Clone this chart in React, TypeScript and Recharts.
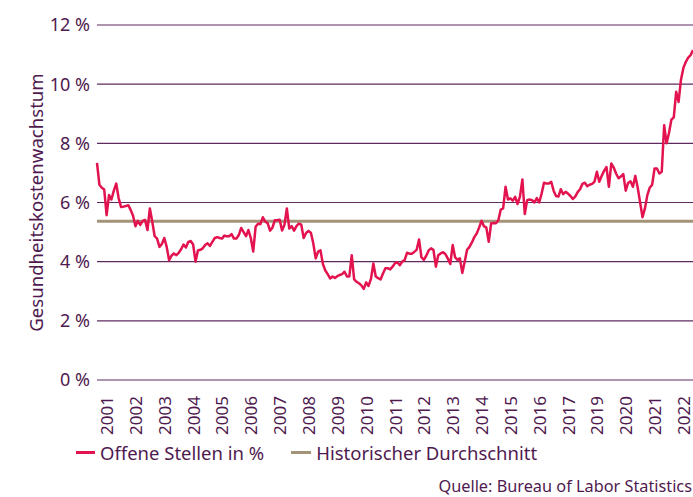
import React from "react";
import { LineChart, Line, XAxis, YAxis, CartesianGrid } from "recharts";

// monthly values (first point ~ autumn 2000)
const openings: number[] = [
  7.34, 6.6, 6.5, 6.44, 5.57, 6.25, 6.1, 6.4, 6.64, 6.15,
  5.85, 5.86, 5.88, 5.91, 5.75, 5.55, 5.2, 5.38, 5.24, 5.38,
  5.41, 5.07, 5.8, 5.35, 4.86, 4.78, 4.5, 4.6, 4.8, 4.5,
  4.05, 4.2, 4.28, 4.22, 4.3, 4.42, 4.58, 4.48, 4.67, 4.7,
  4.58, 4.0, 4.38, 4.4, 4.45, 4.56, 4.62, 4.53, 4.67, 4.8,
  4.83, 4.8, 4.78, 4.88, 4.86, 4.86, 4.93, 4.78, 4.78, 4.9,
  5.14, 5.0, 4.86, 5.07, 4.8, 4.34, 5.18, 5.28, 5.27, 5.5,
  5.36, 5.3, 5.05, 5.15, 5.4, 5.4, 5.42, 5.05, 5.25, 5.8,
  5.12, 5.2, 5.05, 5.2, 5.29, 5.25, 4.8, 4.97, 5.04, 4.98,
  4.62, 4.11, 4.34, 4.38, 3.92, 3.7, 3.58, 3.43, 3.5, 3.45,
  3.51, 3.55, 3.58, 3.66, 3.5, 3.5, 4.22, 3.4, 3.32, 3.27,
  3.2, 3.08, 3.3, 3.18, 3.42, 3.94, 3.5, 3.44, 3.4, 3.6,
  3.78, 3.78, 3.74, 3.83, 3.95, 3.98, 3.88, 4.0, 4.05, 4.3,
  4.27, 4.27, 4.33, 4.4, 4.75, 4.15, 4.06, 4.2, 4.38, 4.45,
  4.4, 3.83, 4.22, 4.28, 4.32, 4.25, 4.1, 3.92, 4.56, 4.15,
  4.06, 4.11, 3.62, 4.0, 4.4, 4.5, 4.65, 4.83, 4.95, 5.15,
  5.38, 5.2, 5.15, 4.67, 5.29, 5.31, 5.3, 5.4, 5.76, 5.8,
  6.53, 6.1, 6.14, 6.06, 6.19, 5.95, 6.2, 6.78, 5.61, 6.08,
  6.1, 6.08, 6.0, 6.15, 6.0, 6.3, 6.67, 6.64, 6.64, 6.7,
  6.4, 6.22, 6.2, 6.45, 6.28, 6.36, 6.3, 6.22, 6.12, 6.2,
  6.35, 6.45, 6.63, 6.67, 6.55, 6.6, 6.63, 6.7, 7.04, 6.7,
  6.9, 7.07, 7.2, 6.53, 7.32, 7.18, 6.98, 6.82, 6.88, 6.96,
  6.4, 6.66, 6.72, 6.53, 6.9, 6.5, 6.0, 5.5, 5.8, 6.25,
  6.5, 6.6, 7.15, 7.15, 6.98, 7.04, 8.61, 8.0, 8.35, 8.8,
  8.88, 9.74, 9.4, 10.15, 10.55, 10.75, 10.9, 10.98, 11.15,
];

const historicalAverage = 5.37;

// axis labels as printed (2018 is missing in the original)
const yearLabels = [
  "2001", "2002", "2003", "2004", "2005", "2006", "2007", "2008", "2009", "2010",
  "2011", "2012", "2013", "2014", "2015", "2016", "2017", "2019", "2020", "2021", "2022",
];
const firstLabelIndex = 4;
const yTicks = [0, 2, 4, 6, 8, 10, 12];

const RED = "#e2134f";
const TAN = "#a39478";
const PURPLE = "#4f1a4f";
const FONT = "'Noto Sans', sans-serif";

const data = openings.map((v, i) => ({ i, offene: v, avg: historicalAverage }));
const xTicks = yearLabels.map((_, k) => firstLabelIndex + k * 12);

const YearTick = ({ x, y, payload }: any) => {
  const k = xTicks.indexOf(payload.value);
  return (
    <text
      transform={`translate(${x},${y + 8}) rotate(-90)`}
      textAnchor="end"
      dominantBaseline="central"
      fontSize={17}
      fontFamily={FONT}
      fill={PURPLE}
    >
      {yearLabels[k]}
    </text>
  );
};

const YTitle = ({ viewBox }: any) => {
  const cy = viewBox.y + viewBox.height / 2;
  return (
    <text
      transform={`translate(35,${cy}) rotate(-90)`}
      textAnchor="middle"
      dominantBaseline="central"
      fontSize={18.6}
      fontFamily={FONT}
      fill={PURPLE}
    >
      Gesundheitskostenwachstum
    </text>
  );
};

export default function App() {
  return (
    <div style={{ position: "absolute", left: 0, top: 0, width: 693, height: 497, background: "#fff", fontFamily: FONT }}>
      <LineChart width={693} height={497} data={data} margin={{ top: 25, right: 0, left: 0, bottom: 0 }}>
        <CartesianGrid vertical={false} stroke="#5e2b5e" strokeWidth={1.2} />
        <XAxis
          dataKey="i"
          type="number"
          domain={[0, openings.length - 1]}
          ticks={xTicks}
          tick={<YearTick />}
          axisLine={false}
          tickLine={false}
          height={117}
          interval={0}
        />
        <YAxis
          width={97}
          domain={[0, 12]}
          ticks={yTicks}
          tickFormatter={(v: number) => `${v} %`}
          tick={{ fontSize: 18, fill: PURPLE, fontFamily: FONT }}
          axisLine={false}
          tickLine={false}
          tickSize={0}
          tickMargin={7}
          label={<YTitle />}
        />
        <Line dataKey="avg" stroke={TAN} strokeWidth={3} dot={false} isAnimationActive={false} />
        <Line dataKey="offene" stroke={RED} strokeWidth={2.5} dot={false} isAnimationActive={false} strokeLinejoin="round" />
      </LineChart>

      {/* Legend */}
      <div style={{ position: "absolute", left: 76, top: 440, display: "flex", alignItems: "center", fontSize: 18.5, color: PURPLE }}>
        <div style={{ width: 19, height: 3, background: RED, marginRight: 5 }} />
        <span>Offene Stellen in %</span>
        <div style={{ width: 20, height: 3, background: TAN, marginLeft: 27, marginRight: 5 }} />
        <span>Historischer Durchschnitt</span>
      </div>
      <div style={{ position: "absolute", right: 1, top: 475, fontSize: 16.3, color: PURPLE }}>
        Quelle: Bureau of Labor Statistics
      </div>
    </div>
  );
}
